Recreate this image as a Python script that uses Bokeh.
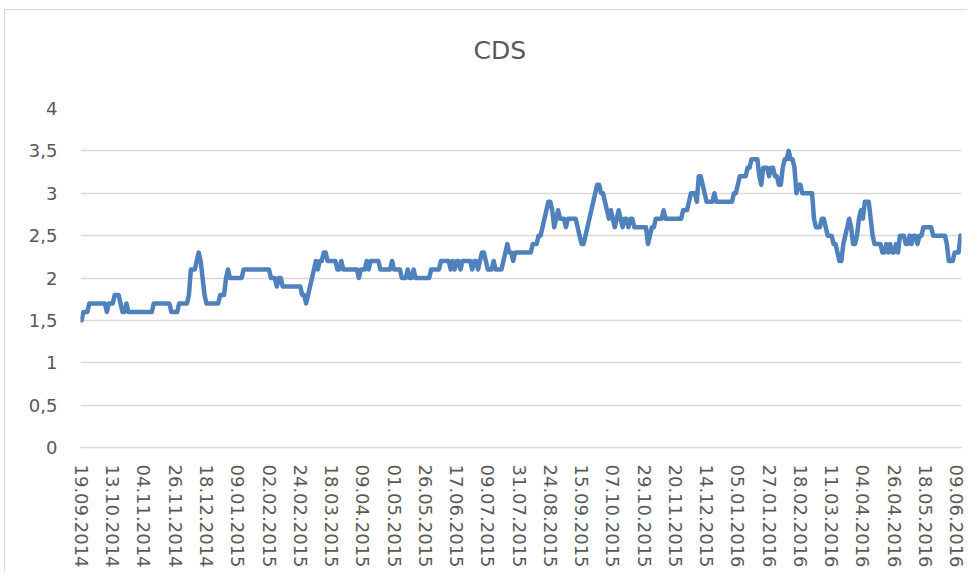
from bokeh.plotting import figure
from bokeh.models import Range1d, FixedTicker, Title
from bokeh.embed import file_html
from bokeh.resources import INLINE

# CDS daily values (one per trading day)
cds = [
    1.5, 1.6, 1.6, 1.6, 1.7, 1.7, 1.7, 1.7, 1.7, 1.7, 1.7, 1.7, 1.7, 1.6, 1.7, 1.7,
    1.7, 1.8, 1.8, 1.8, 1.7, 1.6, 1.6, 1.7, 1.6, 1.6, 1.6, 1.6, 1.6, 1.6, 1.6, 1.6,
    1.6, 1.6, 1.6, 1.6, 1.6, 1.7, 1.7, 1.7, 1.7, 1.7, 1.7, 1.7, 1.7, 1.7, 1.6, 1.6,
    1.6, 1.6, 1.7, 1.7, 1.7, 1.7, 1.7, 1.8, 2.1, 2.1, 2.1, 2.2, 2.3, 2.2, 2.0, 1.8,
    1.7, 1.7, 1.7, 1.7, 1.7, 1.7, 1.7, 1.8, 1.8, 1.8, 2.0, 2.1, 2.0, 2.0, 2.0, 2.0,
    2.0, 2.0, 2.0, 2.1, 2.1, 2.1, 2.1, 2.1, 2.1, 2.1, 2.1, 2.1, 2.1, 2.1, 2.1, 2.1,
    2.1, 2.0, 2.0, 2.0, 1.9, 2.0, 2.0, 1.9, 1.9, 1.9, 1.9, 1.9, 1.9, 1.9, 1.9, 1.9,
    1.9, 1.8, 1.8, 1.7, 1.8, 1.9, 2.0, 2.1, 2.2, 2.1, 2.2, 2.2, 2.3, 2.3, 2.2, 2.2,
    2.2, 2.2, 2.2, 2.1, 2.1, 2.2, 2.1, 2.1, 2.1, 2.1, 2.1, 2.1, 2.1, 2.1, 2.0, 2.1,
    2.1, 2.1, 2.2, 2.1, 2.2, 2.2, 2.2, 2.2, 2.2, 2.1, 2.1, 2.1, 2.1, 2.1, 2.1, 2.2,
    2.1, 2.1, 2.1, 2.1, 2.0, 2.0, 2.0, 2.1, 2.0, 2.0, 2.1, 2.0, 2.0, 2.0, 2.0, 2.0,
    2.0, 2.0, 2.0, 2.1, 2.1, 2.1, 2.1, 2.1, 2.2, 2.2, 2.2, 2.2, 2.2, 2.1, 2.2, 2.1,
    2.2, 2.2, 2.1, 2.2, 2.2, 2.2, 2.2, 2.2, 2.1, 2.2, 2.2, 2.1, 2.2, 2.3, 2.3, 2.2,
    2.1, 2.1, 2.1, 2.2, 2.1, 2.1, 2.1, 2.1, 2.2, 2.3, 2.4, 2.3, 2.3, 2.2, 2.3, 2.3,
    2.3, 2.3, 2.3, 2.3, 2.3, 2.3, 2.3, 2.4, 2.4, 2.4, 2.5, 2.5, 2.6, 2.7, 2.8, 2.9,
    2.9, 2.8, 2.6, 2.7, 2.8, 2.7, 2.7, 2.7, 2.6, 2.7, 2.7, 2.7, 2.7, 2.7, 2.6, 2.5,
    2.4, 2.4, 2.5, 2.6, 2.7, 2.8, 2.9, 3.0, 3.1, 3.1, 3.0, 3.0, 2.9, 2.8, 2.7, 2.8,
    2.7, 2.6, 2.7, 2.8, 2.7, 2.6, 2.7, 2.7, 2.6, 2.7, 2.7, 2.6, 2.6, 2.6, 2.6, 2.6,
    2.6, 2.6, 2.4, 2.5, 2.6, 2.6, 2.7, 2.7, 2.7, 2.7, 2.8, 2.7, 2.7, 2.7, 2.7, 2.7,
    2.7, 2.7, 2.7, 2.7, 2.8, 2.8, 2.8, 2.9, 3.0, 3.0, 3.0, 2.9, 3.2, 3.2, 3.1, 3.0,
    2.9, 2.9, 2.9, 2.9, 3.0, 2.9, 2.9, 2.9, 2.9, 2.9, 2.9, 2.9, 2.9, 2.9, 3.0, 3.0,
    3.1, 3.2, 3.2, 3.2, 3.2, 3.3, 3.3, 3.4, 3.4, 3.4, 3.4, 3.2, 3.1, 3.3, 3.3, 3.3,
    3.2, 3.3, 3.3, 3.2, 3.2, 3.1, 3.1, 3.3, 3.4, 3.4, 3.5, 3.4, 3.4, 3.3, 3.0, 3.1,
    3.1, 3.0, 3.0, 3.0, 3.0, 3.0, 3.0, 2.7, 2.6, 2.6, 2.6, 2.7, 2.7, 2.6, 2.5, 2.5,
    2.5, 2.4, 2.4, 2.3, 2.2, 2.2, 2.4, 2.5, 2.6, 2.7, 2.6, 2.4, 2.4, 2.5, 2.7, 2.8,
    2.7, 2.9, 2.9, 2.9, 2.7, 2.5, 2.4, 2.4, 2.4, 2.4, 2.3, 2.3, 2.4, 2.3, 2.4, 2.3,
    2.3, 2.4, 2.3, 2.5, 2.5, 2.5, 2.4, 2.4, 2.5, 2.4, 2.5, 2.5, 2.4, 2.5, 2.5, 2.6,
    2.6, 2.6, 2.6, 2.6, 2.5, 2.5, 2.5, 2.5, 2.5, 2.5, 2.5, 2.4, 2.2, 2.2, 2.2, 2.3,
    2.3, 2.3, 2.5,
]

# Category-axis labels (every 16th trading day)
x_labels = [
    "19.09.2014", "13.10.2014", "04.11.2014", "26.11.2014", "18.12.2014",
    "09.01.2015", "02.02.2015", "24.02.2015", "18.03.2015", "09.04.2015",
    "01.05.2015", "26.05.2015", "17.06.2015", "09.07.2015", "31.07.2015",
    "24.08.2015", "15.09.2015", "07.10.2015", "29.10.2015", "20.11.2015",
    "14.12.2015", "05.01.2016", "27.01.2016", "18.02.2016", "11.03.2016",
    "04.04.2016", "26.04.2016", "18.05.2016", "09.06.2016",
]
label_every = 16

y_ticks = [0, 0.5, 1, 1.5, 2, 2.5, 3, 3.5, 4]
y_labels = ["0", "0,5", "1", "1,5", "2", "2,5", "3", "3,5", "4"]

title_text = "CDS"

FONT = "DejaVu Sans"
TXT = "#595959"
GRID = "#d9d9d9"

idx = list(range(len(cds)))
x_ticks = [i * label_every for i in range(len(x_labels))]

p = figure(
    frame_width=881, frame_height=339,
    min_border_left=75, min_border_right=6, min_border_top=98, min_border_bottom=124,
    x_range=Range1d(-0.5, len(cds) - 0.5), y_range=Range1d(0, 4),
    output_backend="svg", toolbar_location=None,
    title=None,
)
p.margin = (9, 0, 0, 4)
p.styles = {"border-left": "1px solid #d9d9d9", "border-top": "1px solid #d9d9d9"}
p.outline_line_color = None
p.background_fill_color = "white"
p.border_fill_color = "white"

# spacer (closest to the frame) then the visible title above it
p.add_layout(Title(text=" ", text_font_size="1px", standoff=36), "above")
p.add_layout(Title(text=title_text, align="left", offset=393, standoff=10,
                   text_font=FONT, text_font_size="25px", text_font_style="normal",
                   text_color=TXT), "above")

p.line(idx, cds, line_color="#4F81BD", line_width=4.5, line_join="round", line_cap="round")

# x axis
p.xaxis.ticker = FixedTicker(ticks=x_ticks)
p.xaxis.major_label_overrides = {t: lab for t, lab in zip(x_ticks, x_labels)}
p.xaxis.major_label_orientation = "vertical"
p.xaxis.major_tick_line_color = None
p.xaxis.minor_tick_line_color = None
p.xaxis.axis_line_color = GRID
p.xaxis.axis_line_width = 1.5
p.xaxis.major_label_standoff = 11
p.xaxis.major_label_text_font = FONT
p.xaxis.major_label_text_font_size = "18px"
p.xaxis.major_label_text_color = TXT

# y axis
p.yaxis.ticker = FixedTicker(ticks=y_ticks)
p.yaxis.major_label_overrides = {t: lab for t, lab in zip(y_ticks, y_labels)}
p.yaxis.major_tick_line_color = None
p.yaxis.minor_tick_line_color = None
p.yaxis.axis_line_color = None
p.yaxis.major_label_standoff = 17
p.yaxis.major_label_text_font = FONT
p.yaxis.major_label_text_font_size = "18px"
p.yaxis.major_label_text_color = TXT

p.xgrid.grid_line_color = None
p.ygrid.grid_line_color = GRID
p.ygrid.grid_line_width = 1.5

open("out.html", "w").write(file_html(p, INLINE))
